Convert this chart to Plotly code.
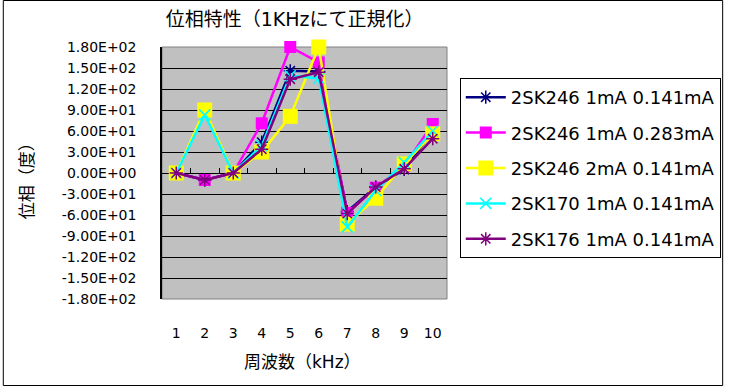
import plotly.graph_objects as go

freq_khz = [1, 2, 3, 4, 5, 6, 7, 8, 9, 10]
x_tick_labels = ["1", "2", "3", "4", "5", "6", "7", "8", "9", "10"]

s_2sk246_1ma_0141 = [0, -10, 0, 44, 146, 145, -55, -20, 5, 60]
s_2sk246_1ma_0283 = [0, -10, 0, 71, 180, 158, -57, -21, 10, 70]
s_2sk246_2ma_0141 = [0, 90, 0, 30, 81, 180, -73, -36, 13, 56]
s_2sk170_1ma_0141 = [0, 83, 0, 39, 139, 135, -77, -25, 15, 60]
s_2sk176_1ma_0141 = [0, -10, 0, 34, 134, 144, -58, -20, 6, 49]

series_names = [
    "2SK246 1mA 0.141mA",
    "2SK246 1mA 0.283mA",
    "2SK246 2mA 0.141mA",
    "2SK170 1mA 0.141mA",
    "2SK176 1mA 0.141mA",
]
y_tick_vals = [180, 150, 120, 90, 60, 30, 0, -30, -60, -90, -120, -150, -180]
y_tick_text = [f"{v:.2E}" for v in y_tick_vals]
category_bounds = [0.5 + i for i in range(len(freq_khz) + 1)]

title_text = "位相特性（1KHzにて正規化）"
x_title = "周波数（kHz）"
y_title = "位相（度）"

FONT = "DejaVu Sans, Noto Sans CJK JP"
CLEAR = "rgba(0,0,0,0)"

styles = [
    dict(color="#000080", symbol="asterisk-open", size=11, lw=1.5),
    dict(color="#FF00FF", symbol="square", size=12, lw=0),
    dict(color="#FFFF00", symbol="square", size=15, lw=0),
    dict(color="#00FFFF", symbol="x-thin-open", size=11, lw=1.5),
    dict(color="#800080", symbol="asterisk-open", size=11, lw=1.5),
]
data = [s_2sk246_1ma_0141, s_2sk246_1ma_0283, s_2sk246_2ma_0141,
        s_2sk170_1ma_0141, s_2sk176_1ma_0141]

fig = go.Figure()
for name, ys, st in zip(series_names, data, styles):
    fig.add_trace(go.Scatter(
        x=freq_khz, y=ys, name=name, mode="lines+markers",
        line=dict(color=st["color"], width=2.5),
        marker=dict(symbol=st["symbol"], size=st["size"], color=st["color"],
                    line=dict(color=st["color"], width=st["lw"])),
        legendgroup=name, cliponaxis=False,
    ))

# invisible trace so the tick axis at y=0 is drawn
fig.add_trace(go.Scatter(x=[freq_khz[0]], y=[0], xaxis="x2", showlegend=False,
                         mode="markers", marker=dict(opacity=0), hoverinfo="skip"))

W, H = 733, 386
L, R, T, B = 162, 281, 47, 87
PW, PH = W - L - R, H - T - B


def px_x(px):
    return (px - L) / PW


def px_y(py):
    return (H - B - py) / PH


fig.update_layout(
    width=W, height=H,
    margin=dict(l=L, r=R, t=T, b=B),
    paper_bgcolor="white",
    plot_bgcolor="#C0C0C0",
    font=dict(family=FONT, size=14, color="black"),
    title=dict(text=title_text, x=px_x(297), xanchor="center", xref="paper",
               y=1 - 19 / H, yanchor="middle",
               font=dict(family=FONT, size=19, color="black")),
    showlegend=True,
    legend=dict(x=px_x(465), xanchor="left", y=px_y(78), yanchor="top",
                bordercolor="black", borderwidth=1, bgcolor="white",
                font=dict(family=FONT, size=18, color="black"),
                tracegroupgap=9, itemwidth=40),
    xaxis=dict(range=[0.5, 10.5], tickmode="array", tickvals=freq_khz, ticktext=x_tick_labels,
               showgrid=False, zeroline=False, showline=False,
               ticks="outside", ticklen=21, tickcolor=CLEAR,
               tickfont=dict(family=FONT, size=14)),
    xaxis2=dict(range=[0.5, 10.5], overlaying="x", anchor="free", position=0.5, side="bottom",
                tickmode="array", tickvals=category_bounds, showticklabels=False,
                ticks="inside", ticklen=5, tickcolor="black", tickwidth=1,
                showgrid=False, zeroline=False, showline=False),
    yaxis=dict(range=[-180, 180], tickmode="array", tickvals=y_tick_vals, ticktext=y_tick_text,
               showgrid=True, gridcolor="black", gridwidth=1, zeroline=False,
               showline=True, linecolor="black", linewidth=1.5,
               ticks="outside", ticklen=21, tickcolor=CLEAR,
               tickfont=dict(family=FONT, size=14)),
    annotations=[
        dict(text=x_title, xref="paper", yref="paper", x=px_x(305), y=px_y(362),
             xanchor="center", yanchor="middle", showarrow=False,
             font=dict(family=FONT, size=17, color="black")),
        dict(text=y_title, xref="paper", yref="paper", x=px_x(25), y=px_y(177),
             xanchor="center", yanchor="middle", showarrow=False, textangle=-90,
             font=dict(family=FONT, size=17, color="black")),
    ],
    shapes=[
        dict(type="rect", xref="paper", yref="paper", x0=0, x1=1, y0=0, y1=1,
             line=dict(color="#808080", width=1), fillcolor=CLEAR, layer="between"),
        dict(type="rect", xref="paper", yref="paper",
             x0=px_x(0.5), x1=px_x(W - 0.5), y0=px_y(H - 0.5), y1=px_y(0.5),
             line=dict(color="black", width=1), fillcolor=CLEAR, layer="below"),
    ],
)

fig.write_html("out.html", config={"displayModeBar": False},
               post_script="document.body.style.margin='0';document.body.style.overflow='hidden';")
